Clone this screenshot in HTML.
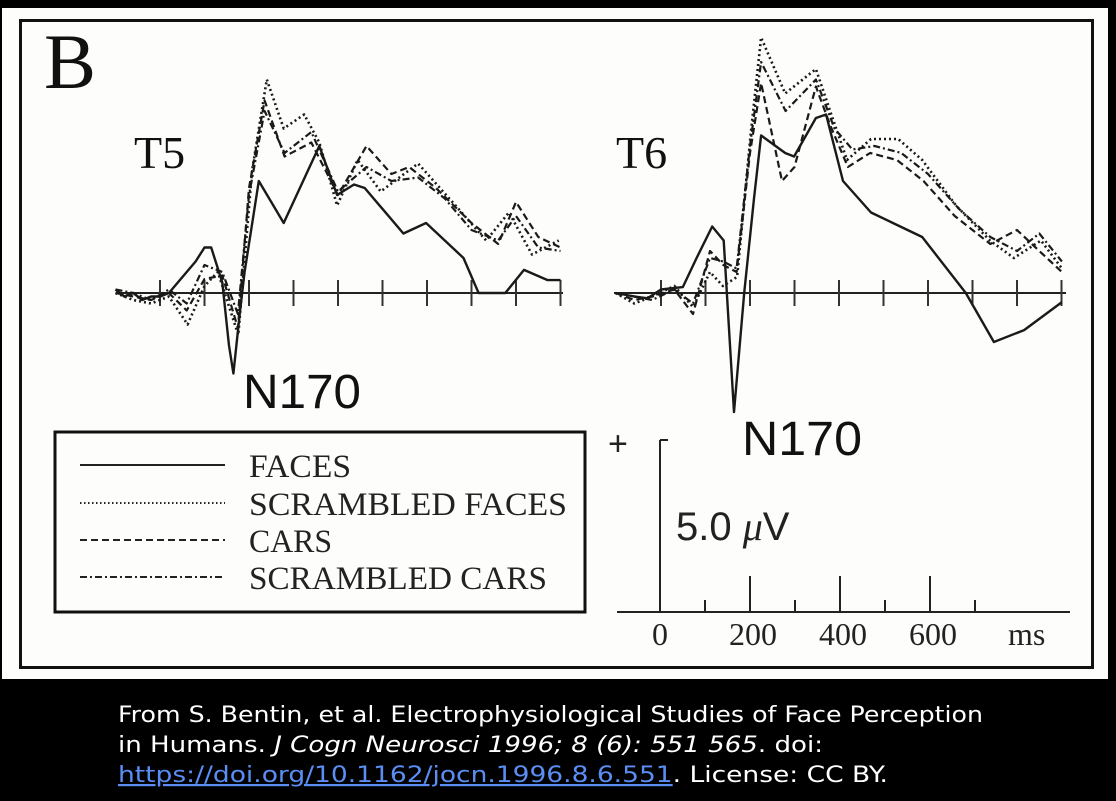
<!DOCTYPE html>
<html><head><meta charset="utf-8"><style>
html,body{margin:0;padding:0;background:#000;width:1116px;height:801px;overflow:hidden}
svg{display:block}
</style></head><body>
<svg id="fig" width="1116" height="801" viewBox="0 0 1116 801">
<rect x="2" y="8" width="1106" height="671" fill="#fdfdfb"/>
<rect x="20.5" y="20.5" width="1072" height="647" fill="none" stroke="#111" stroke-width="3"/>
<text x="44" y="88" font-family="Liberation Serif, serif" font-size="78" fill="#111">B</text>
<text x="134" y="168" font-family="Liberation Serif, serif" font-size="46" fill="#111">T5</text>
<text x="616" y="168" font-family="Liberation Serif, serif" font-size="46" fill="#111">T6</text>
<text x="243" y="408" font-family="Liberation Sans, sans-serif" font-size="48" fill="#111" textLength="118" lengthAdjust="spacingAndGlyphs">N170</text>
<text x="742" y="455" font-family="Liberation Sans, sans-serif" font-size="48" fill="#111" textLength="120" lengthAdjust="spacingAndGlyphs">N170</text>
<g id="t5"></g>
<g id="t6"></g>
<g>
<rect x="55" y="432" width="530" height="180" fill="none" stroke="#111" stroke-width="3"/>
<line x1="80" y1="465" x2="225" y2="465" stroke="#222" stroke-width="2"/>
<line x1="80" y1="503" x2="225" y2="503" stroke="#222" stroke-width="2" stroke-dasharray="1.5 2.5"/>
<line x1="80" y1="540" x2="225" y2="540" stroke="#222" stroke-width="2" stroke-dasharray="7 4"/>
<line x1="80" y1="577" x2="225" y2="577" stroke="#222" stroke-width="2" stroke-dasharray="7 3 2 3"/>
<g font-family="Liberation Serif, serif" font-size="33" fill="#222">
<text x="249" y="477" textLength="102" lengthAdjust="spacingAndGlyphs">FACES</text>
<text x="249" y="515" textLength="318" lengthAdjust="spacingAndGlyphs">SCRAMBLED  FACES</text>
<text x="249" y="552" textLength="83" lengthAdjust="spacingAndGlyphs">CARS</text>
<text x="249" y="589" textLength="298" lengthAdjust="spacingAndGlyphs">SCRAMBLED  CARS</text>
</g></g>
<g>
<text x="608" y="455" font-family="Liberation Sans, sans-serif" font-size="34" fill="#222">+</text>
<line x1="660" y1="440" x2="660" y2="612" stroke="#222" stroke-width="2"/>
<line x1="660" y1="440" x2="668" y2="440" stroke="#222" stroke-width="2"/>
<line x1="617" y1="612" x2="1070" y2="612" stroke="#222" stroke-width="2"/>
<g id="scaleTicks"></g>
<text x="676" y="540" font-family="Liberation Sans, sans-serif" font-size="40" fill="#222">5.0 <tspan font-family="Liberation Serif, serif" font-style="italic">μ</tspan>V</text>
<g font-family="Liberation Serif, serif" font-size="32" fill="#222">
<text x="660" y="645" text-anchor="middle">0</text>
<text x="753" y="645" text-anchor="middle">200</text>
<text x="843" y="645" text-anchor="middle">400</text>
<text x="933" y="645" text-anchor="middle">600</text>
<text x="1008" y="645">ms</text>
</g></g>
<g font-family="DejaVu Sans, Liberation Sans, sans-serif" font-size="22" fill="#fff">
<text x="118" y="722" textLength="865" lengthAdjust="spacingAndGlyphs">From S. Bentin, et al. Electrophysiological Studies of Face Perception</text>
<text x="118" y="752" textLength="705" lengthAdjust="spacingAndGlyphs">in Humans. <tspan font-style="italic">J Cogn Neurosci 1996; 8 (6): 551  565</tspan>. doi:</text>
<text x="118" y="782" textLength="770" lengthAdjust="spacingAndGlyphs"><tspan fill="#5b8ef5" text-decoration="underline">https://doi.org/10.1162/jocn.1996.8.6.551</tspan>. License: CC BY.</text>
</g>
</svg>
<script>
// time (ms) and amplitude (µV, positive up) samples
const t5FacesT = [-100,-80,-60,-40,-20,0,20,40,60,80,100,115,140,155,165,180,190,222,278,358,398,436,460,547,598,682,716,776,818,871,900];
const t5FacesV = [0.1,-0.1,0,-0.2,-0.1,-0.1,0,0.3,0.6,0.9,1.3,1.3,0.3,-1.5,-2.3,-0.5,0.6,3.2,2.0,4.2,2.8,3.1,3.0,1.7,2.0,1.0,0,0,0.66,0.37,0.37];
const t5ScrFacesT = [-100,-60,-20,20,62,100,130,176,207,240,278,324,358,398,444,496,580,664,733,784,836,896];
const t5ScrFacesV = [0,-0.2,-0.3,-0.1,-0.9,0.2,0.6,-1.2,3.5,6.1,4.7,5.1,4.3,2.5,3.8,2.9,3.7,2.5,1.5,2.3,1.1,1.5];
const t5CarsT = [-100,-60,-20,20,60,100,140,175,200,235,280,340,400,464,520,560,620,700,760,800,850,900];
const t5CarsV = [0,-0.1,-0.2,0,-0.5,0.4,0.5,-1.0,3.0,5.5,3.9,4.3,2.8,4.2,3.4,3.6,3.0,2.0,1.4,2.6,1.6,1.3];
const t5ScrCarsT = [-100,-60,-20,20,60,100,140,175,200,235,280,340,400,464,520,580,640,700,760,800,850,900];
const t5ScrCarsV = [0.1,0,-0.2,0.1,-0.3,0.8,0.6,-0.6,2.8,5.2,4.0,4.6,2.9,3.6,3.2,3.3,2.7,1.8,1.5,2.2,1.3,1.2];
const t6FacesT = [-102,-60,-30,0,49,80,115,141,164,187,209,225,279,299,348,371,409,472,587,685,748,816,901];
const t6FacesV = [0,-0.1,-0.15,0.1,0.17,1.0,1.9,1.5,-3.4,0,2.7,4.5,4.0,3.9,5.0,5.1,3.2,2.3,1.6,0,-1.4,-1.06,-0.26];
const t6ScrFacesT = [-102,-60,-20,30,72,110,139,171,202,225,279,348,380,418,472,533,587,663,739,793,854,901];
const t6ScrFacesV = [0,-0.3,-0.1,0.2,-0.4,0.6,0.2,0.46,4.6,7.3,5.7,6.4,5.2,3.8,4.4,4.4,3.8,2.5,1.5,1.0,1.5,0.7];
const t6CarsT = [-102,-60,-20,30,72,110,140,170,200,225,272,300,348,380,420,470,530,590,660,740,800,850,901];
const t6CarsV = [0,-0.2,-0.1,0.1,-0.6,1.2,0.8,0.6,4.0,6.0,3.2,3.6,5.9,4.8,3.6,4.0,3.8,3.2,2.2,1.4,1.8,1.2,0.6];
const t6ScrCarsT = [-102,-60,-20,30,72,110,140,170,200,225,280,348,390,430,480,540,600,670,740,800,850,901];
const t6ScrCarsV = [0,-0.1,-0.2,0.1,-0.3,1.0,0.9,0.7,4.2,6.6,5.2,6.1,4.7,4.1,4.2,4.0,3.4,2.4,1.6,1.2,1.7,0.9];
const tickTimes = [0,100,200,300,400,500,600,700,800,900];
const scaleTimes = [100,200,300,400,500,600,700];

const NS = 'http://www.w3.org/2000/svg';
const PXMS = 0.445, PXUV = 35, BASEY = 293;
function panel(gid, x0, xStart, xEnd, series, prefix) {
  const g = document.getElementById(gid);
  const xs = t => x0 + t * PXMS;
  const ys = v => BASEY - v * PXUV;
  const ax = document.createElementNS(NS, 'line');
  ax.setAttribute('x1', xStart); ax.setAttribute('x2', xEnd);
  ax.setAttribute('y1', BASEY); ax.setAttribute('y2', BASEY);
  ax.setAttribute('stroke', '#222'); ax.setAttribute('stroke-width', '2');
  
  
  g.appendChild(ax);
  tickTimes.forEach(t => {
    const tk = document.createElementNS(NS, 'line');
    tk.setAttribute('x1', xs(t)); tk.setAttribute('x2', xs(t));
    tk.setAttribute('y1', BASEY - 13); tk.setAttribute('y2', BASEY + 13);
    tk.setAttribute('stroke', '#333'); tk.setAttribute('stroke-width', '2');
    
    
    g.appendChild(tk);
  });
  series.forEach(s => {
    const pl = document.createElementNS(NS, 'polyline');
    pl.setAttribute('points', s.t.map((t, i) => xs(t).toFixed(1) + ',' + ys(s.v[i]).toFixed(1)).join(' '));
    pl.setAttribute('fill', 'none'); pl.setAttribute('stroke', '#1a1a1a');
    pl.setAttribute('stroke-width', s.w); pl.setAttribute('stroke-linejoin', 'round');
    if (s.dash) pl.setAttribute('stroke-dasharray', s.dash);
    
    
    g.appendChild(pl);
  });
}
panel('t5', 160, 117, 563, [
  {t: t5ScrFacesT, v: t5ScrFacesV, dash: '2 3', w: 2.6, name: 'scrambled-faces'},
  {t: t5CarsT, v: t5CarsV, dash: '7 4', w: 2.2, name: 'cars'},
  {t: t5ScrCarsT, v: t5ScrCarsV, dash: '7 3 2 3', w: 2.2, name: 'scrambled-cars'},
  {t: t5FacesT, v: t5FacesV, dash: null, w: 2.4, name: 'faces'}
], 't5');
panel('t6', 661, 614, 1066, [
  {t: t6ScrFacesT, v: t6ScrFacesV, dash: '2 3', w: 2.6, name: 'scrambled-faces'},
  {t: t6CarsT, v: t6CarsV, dash: '7 4', w: 2.2, name: 'cars'},
  {t: t6ScrCarsT, v: t6ScrCarsV, dash: '7 3 2 3', w: 2.2, name: 'scrambled-cars'},
  {t: t6FacesT, v: t6FacesV, dash: null, w: 2.4, name: 'faces'}
], 't6');
const sg = document.getElementById('scaleTicks');
scaleTimes.forEach(t => {
  const tk = document.createElementNS(NS, 'line');
  const x = 660 + t * 0.45;
  tk.setAttribute('x1', x); tk.setAttribute('x2', x);
  tk.setAttribute('y1', t % 200 === 0 ? 576 : 600); tk.setAttribute('y2', 612);
  tk.setAttribute('stroke', '#222'); tk.setAttribute('stroke-width', '2');
  
  
  sg.appendChild(tk);
});
</script>
</body></html>
